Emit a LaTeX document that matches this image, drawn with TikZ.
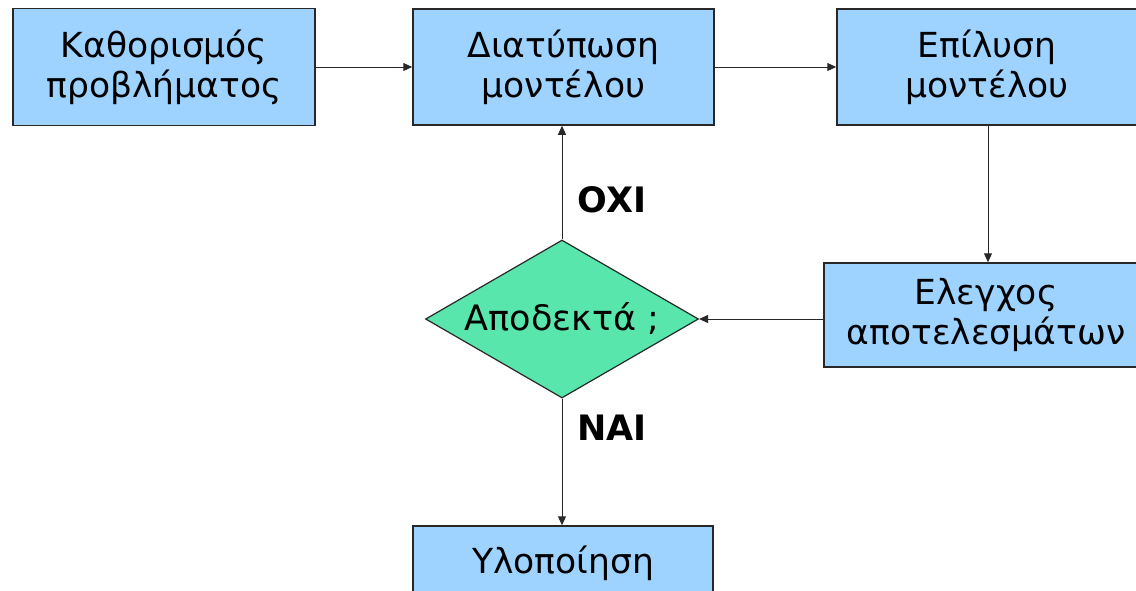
\documentclass[tikz,border=0pt]{standalone}
\usepackage{fontspec}
\setmainfont{DejaVu Sans}
\usetikzlibrary{shapes.geometric,arrows.meta}
\definecolor{boxblue}{RGB}{158,210,255}
\definecolor{diagreen}{RGB}{88,230,172}
\definecolor{edge}{RGB}{40,40,40}
\tikzset{
  stepbox/.style={draw=edge, line width=1.5pt, fill=boxblue, rectangle, inner sep=0pt,
    align=center, font=\fontsize{34.5}{40}\selectfont},
  decision/.style={draw=edge, line width=1.2pt, fill=diagreen, diamond, aspect=1.73, inner sep=0pt,
    font=\fontsize{35}{40}\selectfont},
  conn/.style={draw=edge, line width=1pt, -{Triangle[length=9pt,width=8pt]}},
  lbl/.style={font=\bfseries\fontsize{35}{38}\selectfont, inner sep=0pt}
}
\begin{document}
\begin{tikzpicture}[x=1pt,y=-1pt]
\useasboundingbox (0,0) rectangle (1136,590);
\clip (0,0) rectangle (1136,590);
\node[stepbox, minimum width=302pt, minimum height=117pt] (def) at (164,67) {Καθορισμός\\προβλήματος};
\node[stepbox, minimum width=301pt, minimum height=116pt] (form) at (563.5,67) {Διατύπωση\\μοντέλου};
\node[stepbox, minimum width=300pt, minimum height=116pt] (solve) at (987,67) {Επίλυση\\μοντέλου};
\node[stepbox, minimum width=324pt, minimum height=104pt] (check) at (986,315) {Ελεγχος\\αποτελεσμάτων};
\node[decision, minimum width=273pt, minimum height=158pt] (acc) at (562,319) {Αποδεκτά ;};
\node[stepbox, minimum width=300pt, minimum height=74pt] (impl) at (563,563) {Υλοποίηση};
\draw[conn] (def.east) -- (form.west);
\draw[conn] (form.east) -- (solve.west);
\draw[conn] (solve.south -| 988,0) -- (check.north -| 988,0);
\draw[conn] (check.west |- acc.east) -- (acc.east);
\draw[conn] (acc.north) -- (form.south -| acc.north);
\draw[conn] (acc.south) -- (impl.north -| acc.south);
\node[lbl] (no) at (612,200) {ΟΧΙ};
\node[lbl] (yes) at (612,428) {ΝΑΙ};
\end{tikzpicture}
\end{document}
